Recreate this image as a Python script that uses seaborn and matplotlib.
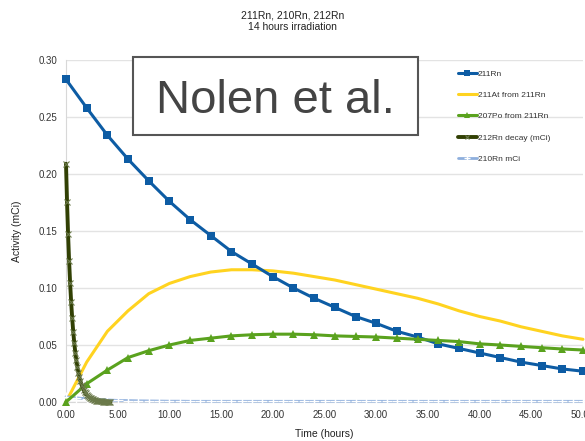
import matplotlib
matplotlib.use("Agg")
import matplotlib.pyplot as plt
import matplotlib.patches as mpatches
import seaborn as sns
import pandas as pd

# time grids (hours)
t_2h = [0, 2, 4, 6, 8, 10, 12, 14, 16, 18, 20, 22, 24, 26, 28, 30,
        32, 34, 36, 38, 40, 42, 44, 46, 48, 50]
t_1h = list(range(0, 51))
t_212 = [0.0, 0.1, 0.2, 0.3, 0.4, 0.5, 0.6, 0.7, 0.8, 0.9, 1.0, 1.1, 1.2,
         1.3, 1.4, 1.5, 1.6, 1.7, 1.8, 1.9, 2.0, 2.1, 2.2, 2.3, 2.4, 2.5,
         2.6, 2.7, 2.8, 2.9, 3.0, 3.1, 3.2, 3.3, 3.4, 3.5, 3.6, 3.7, 3.8,
         3.9, 4.0, 4.1, 4.2, 4.3]

rn211 = [0.283, 0.258, 0.234, 0.213, 0.194, 0.176, 0.160, 0.146, 0.132,
         0.121, 0.110, 0.100, 0.091, 0.083, 0.075, 0.069, 0.062, 0.057,
         0.051, 0.047, 0.043, 0.039, 0.035, 0.032, 0.029, 0.027]
at211 = [0.0, 0.035, 0.062, 0.080, 0.095, 0.104, 0.110, 0.114, 0.116,
         0.116, 0.115, 0.113, 0.110, 0.107, 0.103, 0.099, 0.095, 0.091,
         0.086, 0.080, 0.075, 0.071, 0.066, 0.062, 0.058, 0.055]
po207 = [0.0, 0.016, 0.028, 0.039, 0.045, 0.050, 0.054, 0.056, 0.058,
         0.059, 0.0595, 0.0595, 0.059, 0.058, 0.0575, 0.057, 0.056, 0.055,
         0.054, 0.053, 0.051, 0.050, 0.0488, 0.0476, 0.0465, 0.0456]
rn212 = [0.2090, 0.1755, 0.1474, 0.1238, 0.1040, 0.0873, 0.0733, 0.0616,
         0.0517, 0.0434, 0.0365, 0.0306, 0.0257, 0.0216, 0.0181, 0.0152,
         0.0128, 0.0108, 0.0090, 0.0076, 0.0064, 0.0054, 0.0045, 0.0038,
         0.0032, 0.0027, 0.0022, 0.0019, 0.0016, 0.0013, 0.0011, 0.0009,
         0.0008, 0.0007, 0.0006, 0.0005, 0.0004, 0.0003, 0.0003, 0.0002,
         0.0002, 0.0002, 0.0001, 0.0001]
rn210 = [0.0046, 0.0036, 0.0028, 0.0022, 0.0018, 0.0014, 0.0012, 0.0010,
         0.0009, 0.0008, 0.0007, 0.0007, 0.0006, 0.0006, 0.0006, 0.0006,
         0.0006, 0.0006, 0.0006, 0.0006, 0.0006, 0.0006, 0.0006, 0.0006,
         0.0006, 0.0006, 0.0006, 0.0006, 0.0006, 0.0006, 0.0006, 0.0006,
         0.0006, 0.0006, 0.0006, 0.0006, 0.0006, 0.0006, 0.0006, 0.0006,
         0.0006, 0.0006, 0.0006, 0.0006, 0.0006, 0.0006, 0.0006, 0.0006,
         0.0006, 0.0006, 0.0006]

sns.set_style("white")
plt.rcParams['font.family'] = ['Liberation Sans', 'DejaVu Sans']

fig = plt.figure(figsize=(5.85, 4.41), dpi=100)
ax = fig.add_axes([66 / 585, 1 - 402 / 441, (583 - 66) / 585, (402 - 60) / 441])

ax.yaxis.grid(True, color="#e3e3e3", linewidth=1)
ax.set_axisbelow(True)

c_blue, c_yel, c_grn, c_dark, c_light = "#0d5ca4", "#ffd320", "#5aa21e", "#314004", "#8eafdd"

sns.lineplot(x=t_2h, y=at211, ax=ax, color=c_yel, linewidth=2.2, label="211At from 211Rn")
sns.lineplot(x=t_1h, y=rn210, ax=ax, color=c_light, linewidth=2, marker="+",
             markersize=7, markeredgewidth=1, label="210Rn mCi")
sns.lineplot(x=t_2h, y=rn211, ax=ax, color=c_blue, linewidth=2.2, marker="s",
             markersize=5.5, markeredgewidth=0, label="211Rn")
sns.lineplot(x=t_2h, y=po207, ax=ax, color=c_grn, linewidth=2.2, marker="^",
             markersize=6, markeredgewidth=0, label="207Po from 211Rn")
sns.lineplot(x=t_212, y=rn212, ax=ax, color=c_dark, linewidth=2.8, marker="x",
             markersize=4, markeredgewidth=0.8, markeredgecolor="#6b7a4a",
             label="212Rn decay (mCi)")

for ln in ax.lines:
    ln.set_clip_on(False)
    ln.set_zorder(3)

ax.set_xlim(0, 50)
ax.set_ylim(0, 0.30)
ax.set_xticks([0, 5, 10, 15, 20, 25, 30, 35, 40, 45, 50])
ax.set_yticks([0, 0.05, 0.10, 0.15, 0.20, 0.25, 0.30])
ax.xaxis.set_major_formatter(matplotlib.ticker.FormatStrFormatter("%.2f"))
ax.yaxis.set_major_formatter(matplotlib.ticker.FormatStrFormatter("%.2f"))
ax.tick_params(length=0, labelsize=7, colors="#333333", pad=6)

for s in ["top", "right"]:
    ax.spines[s].set_visible(False)
ax.spines["left"].set_color("#d8d8d8")
ax.spines["bottom"].set_color("#d8d8d8")

ax.set_xlabel("Time (hours)", fontsize=7.5, color="#222222", labelpad=6)
ax.set_ylabel("Activity (mCi)", fontsize=7.5, color="#222222", labelpad=12)

fig.text(0.5, 1 - 21.5 / 441, "211Rn, 210Rn, 212Rn\n14 hours irradiation",
         ha="center", va="center", fontsize=7.5, color="#222222", linespacing=1.25)

# legend in the original series order
handles, labels = ax.get_legend_handles_labels()
order = ["211Rn", "211At from 211Rn", "207Po from 211Rn", "212Rn decay (mCi)", "210Rn mCi"]
hmap = dict(zip(labels, handles))
leg = ax.legend([hmap[k] for k in order], order, loc="upper left",
                bbox_to_anchor=(454 / 585, 1 - 66 / 441), bbox_transform=fig.transFigure,
                frameon=False, fontsize=6, handlelength=2.2, handletextpad=0.15,
                labelspacing=1.6, markerscale=0.7, borderpad=0)
for txt in leg.get_texts():
    txt.set_color("#333333")

# annotation box
fig.add_artist(mpatches.Rectangle((133 / 585, 1 - 135 / 441), 285 / 585, 78 / 441,
                                  transform=fig.transFigure, facecolor="white",
                                  edgecolor="#555555", linewidth=1.5, zorder=5))
fig.text(275 / 585, 1 - 113 / 441, "Nolen et al.", ha="center", va="baseline",
         fontsize=34, color="#444444", zorder=6)

fig.savefig("out.png", dpi=100)
